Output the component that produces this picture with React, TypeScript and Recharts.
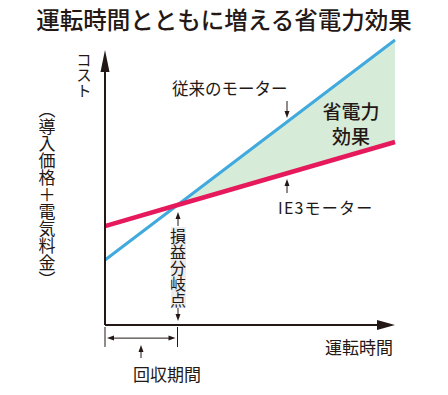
import React from "react";
import { ComposedChart, Line, Area, XAxis, YAxis, ReferenceLine } from "recharts";

const TITLE = "運転時間とともに増える省電力効果";
const Y_LABEL_1 = "コスト";
const Y_LABEL_2 = "（導入価格＋電気料金）";
const X_LABEL = "運転時間";
const CONV_LABEL = "従来のモーター";
const IE3_LABEL = "IE3モーター";
const EFFECT_LABEL_1 = "省電力";
const EFFECT_LABEL_2 = "効果";
const BREAK_EVEN_LABEL = "損益分岐点";
const PAYBACK_LABEL = "回収期間";

const times = [0, 2.5, 10];
const conventional = [22.8, 42.1, 100];
const ie3 = [34.7, 42.1, 64.2];
const breakEven = 2.5;
const xMax = 10;
const yAxisTop = 96.5;

const data = times.map((t, i) => ({
  t,
  conv: conventional[i],
  ie3: ie3[i],
  gap: t >= breakEven ? [ie3[i], conventional[i]] : null,
}));

const INK = "#231815";
const BLUE = "#40a9dd";
const RED = "#e5195b";
const GREEN = "#d6ecd8";
const FONT = "'Noto Sans CJK JP', 'Noto Sans', sans-serif";

const axisArrow = (len: number, half: number) => (p: any) => {
  const { x1, y1, x2, y2 } = p;
  const dx = x2 - x1;
  const dy = y2 - y1;
  const d = Math.sqrt(dx * dx + dy * dy) || 1;
  const ux = dx / d;
  const uy = dy / d;
  const bx = x2 - ux * len;
  const by = y2 - uy * len;
  return (
    <g>
      <line x1={x1} y1={y1} x2={bx + ux * 2} y2={by + uy * 2} stroke={INK} strokeWidth={2} />
      <polygon
        points={`${x2},${y2} ${bx - uy * half},${by + ux * half} ${bx + uy * half},${by - ux * half}`}
        fill={INK}
      />
    </g>
  );
};

const thinLine = (p: any) => (
  <line x1={p.x1} y1={p.y1} x2={p.x2} y2={p.y2} stroke={INK} strokeWidth={1} />
);

const doubleArrow = (p: any) => {
  const { x1, y1, x2 } = p;
  const a = x1 + 2;
  const b = x2 - 2;
  return (
    <g>
      <line x1={a + 4} y1={y1} x2={b - 4} y2={y1} stroke={INK} strokeWidth={1} />
      <polygon points={`${a},${y1} ${a + 7},${y1 - 2.5} ${a + 7},${y1 + 2.5}`} fill={INK} />
      <polygon points={`${b},${y1} ${b - 7},${y1 - 2.5} ${b - 7},${y1 + 2.5}`} fill={INK} />
    </g>
  );
};

function SmallArrow({ x, from, to }: { x: number; from: number; to: number }) {
  const dir = to > from ? 1 : -1;
  const base = to - dir * 7;
  return (
    <g>
      <line x1={x} y1={from} x2={x} y2={base} stroke={INK} strokeWidth={1} />
      <polygon points={`${x},${to} ${x - 2.5},${base} ${x + 2.5},${base}`} fill={INK} />
    </g>
  );
}

export default function App() {
  return (
    <div
      style={{
        position: "absolute",
        left: 0,
        top: 0,
        width: 448,
        height: 395,
        background: "#fff",
        fontFamily: FONT,
      }}
    >
      <ComposedChart
        width={448}
        height={395}
        data={data}
        margin={{ top: 40, right: 53, bottom: 70, left: 105 }}
      >
        <XAxis type="number" dataKey="t" domain={[0, xMax]} hide />
        <YAxis type="number" domain={[0, 100]} hide />
        <Area
          type="linear"
          dataKey="gap"
          fill={GREEN}
          fillOpacity={1}
          stroke="none"
          isAnimationActive={false}
        />
        <Line
          type="linear"
          dataKey="conv"
          stroke={BLUE}
          strokeWidth={3}
          dot={false}
          activeDot={false}
          isAnimationActive={false}
        />
        <Line
          type="linear"
          dataKey="ie3"
          stroke={RED}
          strokeWidth={4.5}
          dot={false}
          activeDot={false}
          isAnimationActive={false}
        />
        <ReferenceLine
          segment={[{ x: 0, y: 0 }, { x: 0, y: yAxisTop }]}
          ifOverflow="visible"
          shape={axisArrow(22, 4.5)}
        />
        <ReferenceLine
          segment={[{ x: 0, y: 0 }, { x: xMax, y: 0 }]}
          ifOverflow="visible"
          shape={axisArrow(18, 5)}
        />
        <ReferenceLine
          segment={[{ x: 0, y: -0.7 }, { x: 0, y: -7.7 }]}
          ifOverflow="visible"
          shape={thinLine}
        />
        <ReferenceLine
          segment={[{ x: breakEven, y: -0.7 }, { x: breakEven, y: -7.7 }]}
          ifOverflow="visible"
          shape={thinLine}
        />
        <ReferenceLine
          segment={[{ x: 0, y: -4.6 }, { x: breakEven, y: -4.6 }]}
          ifOverflow="visible"
          shape={doubleArrow}
        />
      </ComposedChart>
      <svg
        width={448}
        height={395}
        style={{ position: "absolute", left: 0, top: 0, pointerEvents: "none" }}
        fontFamily={FONT}
      >
        <text x={224} y={19} textAnchor="middle" dominantBaseline="central" fontSize={23.5} fontWeight={500} fill={INK}>
          {TITLE}
        </text>
        <text x={84} y={52} fontSize={15.5} fill={INK} style={{ writingMode: "vertical-rl" }}>
          {Y_LABEL_1}
        </text>
        <text x={47} y={101} fontSize={17} fill={INK} style={{ writingMode: "vertical-rl" }}>
          {Y_LABEL_2}
        </text>
        <text x={172} y={88} dominantBaseline="central" fontSize={16.5} fill={INK}>
          {CONV_LABEL}
        </text>
        <SmallArrow x={287} from={101} to={118} />
        <text x={351} y={110} textAnchor="middle" dominantBaseline="central" fontSize={19} fontWeight={500} fill={INK}>
          {EFFECT_LABEL_1}
        </text>
        <text x={351} y={135} textAnchor="middle" dominantBaseline="central" fontSize={19} fontWeight={500} fill={INK}>
          {EFFECT_LABEL_2}
        </text>
        <SmallArrow x={287} from={193} to={179} />
        <text x={278} y={207} dominantBaseline="central" fontSize={16} letterSpacing={1.2} fill={INK}>
          {IE3_LABEL}
        </text>
        <SmallArrow x={178} from={226} to={212} />
        <rect x={171} y={227} width={15} height={81} fill="#ececec" />
        <text x={178} y={228} fontSize={16} fill={INK} style={{ writingMode: "vertical-rl" }}>
          {BREAK_EVEN_LABEL}
        </text>
        <SmallArrow x={178} from={308} to={321} />
        <SmallArrow x={141} from={358} to={345} />
        <text x={133} y={373} dominantBaseline="central" fontSize={17} fill={INK}>
          {PAYBACK_LABEL}
        </text>
        <text x={325} y={346} dominantBaseline="central" fontSize={17} fill={INK}>
          {X_LABEL}
        </text>
      </svg>
    </div>
  );
}
